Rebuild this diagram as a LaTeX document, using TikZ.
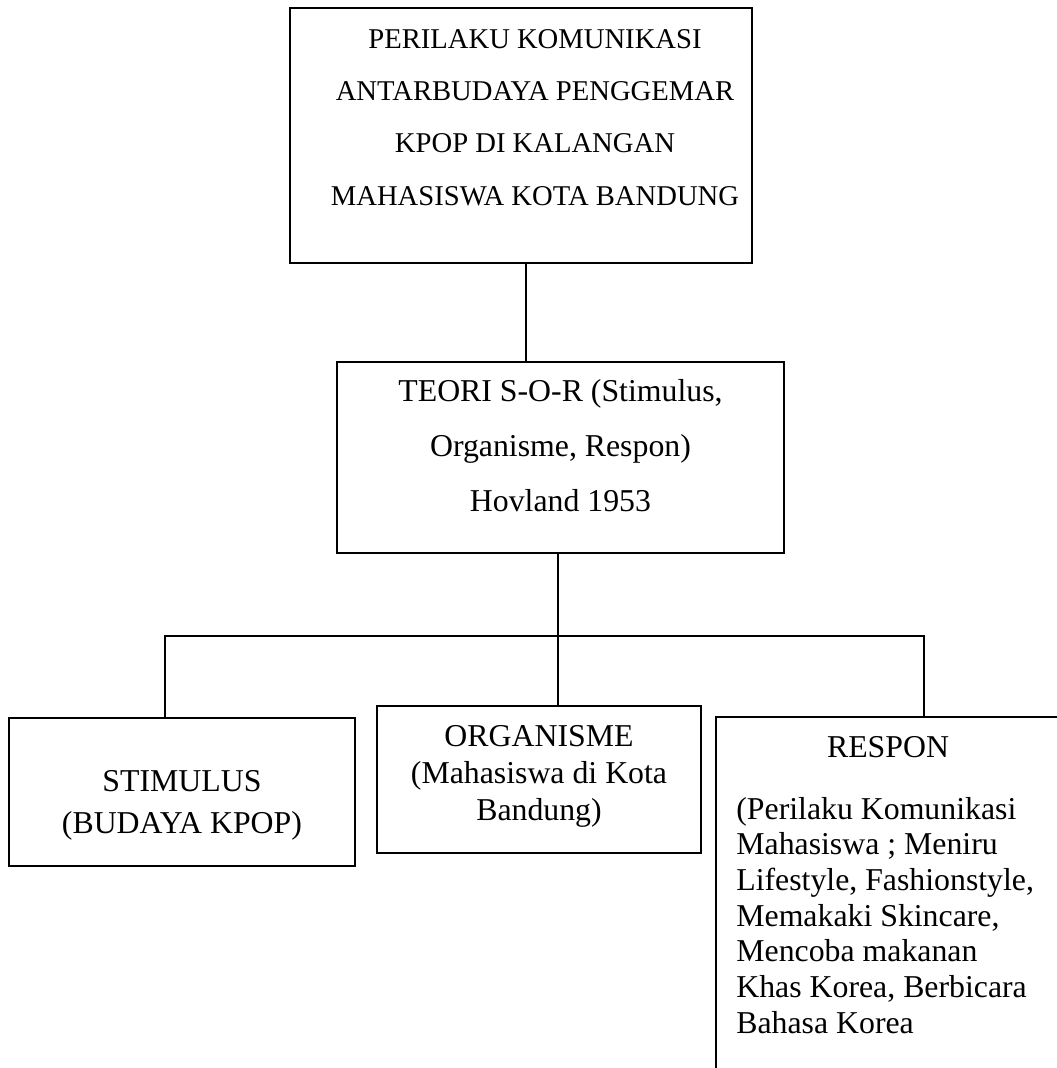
\documentclass[tikz,border=0pt]{standalone}
\usepackage{fontspec}
\setmainfont{Liberation Serif}
\usetikzlibrary{positioning}

\begin{document}
\begin{tikzpicture}[x=0.02cm, y=-0.02cm,
    box/.style={rectangle, draw, line width=1pt},
    garis/.style={line width=1pt},
    txtjudul/.style={font=\fontsize{16.3}{29.7}\selectfont, align=center, anchor=base, inner sep=0pt},
    txtteori/.style={font=\fontsize{18.1}{31.3}\selectfont, align=center, anchor=base, inner sep=0pt},
    txtbawah/.style={font=\fontsize{18.1}{20.6}\selectfont, align=center, anchor=base, inner sep=0pt}
]
    \useasboundingbox (0,0) rectangle (1057,1068);
    \clip (0,0) rectangle (1057,1068);

    % Judul penelitian
    \node[box, minimum width=9.24cm, minimum height=5.1cm] (judul) at (521,135.5) {};
    \node[txtjudul] (judulisi) at (535,205) {PERILAKU KOMUNIKASI\\ANTARBUDAYA PENGGEMAR\\KPOP DI KALANGAN\\MAHASISWA KOTA BANDUNG};

    % Teori S-O-R
    \node[box, minimum width=8.94cm, minimum height=3.82cm] (teori) at (560.5,457.5) {};
    \node[txtteori] (teoriisi) at (560.5,511.7) {TEORI S-O-R (Stimulus,\\Organisme, Respon)\\Hovland 1953};

    % Stimulus, organisme, respon
    \node[box, minimum width=6.92cm, minimum height=2.96cm] (stimulus) at (182,792) {};
    \node[txtbawah, font=\fontsize{18.1}{23.7}\selectfont] (stimulusisi) at (182,833.3) {STIMULUS\\(BUDAYA KPOP)};

    \node[box, minimum width=6.48cm, minimum height=2.94cm] (organisme) at (539,779.5) {};
    \node[txtbawah, font=\fontsize{18.1}{20.9}\selectfont] (organismeisi) at (539,820) {ORGANISME\\(Mahasiswa di Kota\\Bandung)};

    \node[box, minimum width=6.88cm, minimum height=7.66cm] (respon) at (888,908.5) {};
    \node[txtbawah] (responjudul) at (888,757) {RESPON};
    \node[txtbawah, font=\fontsize{18.1}{20.3}\selectfont, align=left, anchor=base west] (responisi) at (736,1033) {(Perilaku Komunikasi\\Mahasiswa ; Meniru\\Lifestyle, Fashionstyle,\\Memakaki Skincare,\\Mencoba makanan\\Khas Korea, Berbicara\\Bahasa Korea};

    % Garis penghubung
    \coordinate (cabang) at (558,636);
    \coordinate (kiri) at (165,636);
    \coordinate (kanan) at (924,636);
    \draw[garis] ([xshift=0.1cm]judul.south) -- ([xshift=0.1cm]judul.south |- teori.north);
    \draw[garis] (teori.south -| cabang) -- (cabang |- organisme.north);
    \draw[garis] (kiri |- stimulus.north) -- (kiri) -- (kanan) -- (kanan |- respon.north);
\end{tikzpicture}
\end{document}
